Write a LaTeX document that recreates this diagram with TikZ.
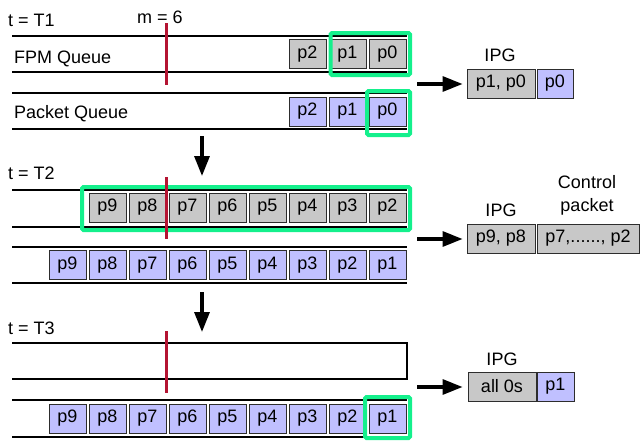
\documentclass[tikz,border=0pt]{standalone}
\usepackage{fontspec}
\setmainfont{Liberation Sans}
\usetikzlibrary{arrows.meta}
\definecolor{hlgreen}{RGB}{20,240,140}
\definecolor{pgray}{RGB}{200,200,200}
\definecolor{pblue}{RGB}{192,192,255}
\definecolor{redm}{RGB}{180,20,50}
\definecolor{bord}{RGB}{45,45,45}
\begin{document}
\begin{tikzpicture}[x=1pt,y=-1pt, font=\fontsize{18}{21}\selectfont,
 qline/.style={line width=1.7pt},
 pkt/.style={draw=bord, line width=0.9pt, minimum width=37pt, minimum height=29pt, inner sep=0pt},
 gpkt/.style={pkt, fill=pgray},
 bpkt/.style={pkt, fill=pblue},
 hl/.style={draw=hlgreen, line width=4pt, rounded corners=1.5pt},
 mline/.style={draw=redm, line width=3pt},
 arr/.style={line width=3.2pt, -{Triangle[length=20pt,width=15pt]}},
 lbl/.style={inner sep=0pt, anchor=base west},
 clbl/.style={inner sep=0pt, anchor=base}]
\useasboundingbox (0,0) rectangle (641,442);

% queue lines
\draw[qline] (12,36) -- (407,36) (12,72) -- (407,72);
\draw[qline] (12,93) -- (407,93) (12,129) -- (407,129);
\draw[qline] (12,190) -- (407,190) (12,227) -- (407,227);
\draw[qline] (12,247) -- (407,247) (12,283) -- (407,283);
\draw[qline] (12,343) -- (407,343) -- (407,379) -- (12,379);
\draw[qline] (12,400) -- (407,400) (12,437) -- (407,437);

% packets T1
\foreach \i in {0,1,2} {
  \node[gpkt] (fa\i) at ({387.5-40*\i},54) {p\i};
  \node[bpkt] (pa\i) at ({387.5-40*\i},111.5) {p\i};
}
% packets T2
\foreach \i in {2,...,9}
  \node[gpkt] (fb\i) at ({387.5-40*(\i-2)},207.5) {p\i};
\foreach \i in {1,...,9}
  \node[bpkt] (pb\i) at ({387.5-40*(\i-1)},265) {p\i};
% packets T3
\foreach \i in {1,...,9}
  \node[bpkt] (pc\i) at ({387.5-40*(\i-1)},418.5) {p\i};

% highlights
\draw[hl] (330.5,33) rectangle (410,75);
\draw[hl] (367,91) rectangle (410,135);
\draw[hl] (82,187) rectangle (410,230);
\draw[hl] (365,397) rectangle (410,438);

% m markers
\draw[mline] (166,23) -- (166,85);
\draw[mline] (166,177) -- (166,239);
\draw[mline] (166,331) -- (166,393);

% IPG boxes
\node[gpkt, minimum width=68pt] (ia1) at (501,83.5) {p1, p0};
\node[bpkt, minimum width=36pt] (ia2) at (555,83.5) {p0};
\node[gpkt, minimum width=68pt] (ib1) at (501,238.5) {p9, p8};
\node[gpkt, minimum width=102pt] (ib2) at (588,238.5) {p7,......, p2};
\node[gpkt, minimum width=68pt] (ic1) at (502,386.5) {all 0s};
\node[bpkt, minimum width=37pt] (ic2) at (555.5,386.5) {p1};

% arrows
\coordinate (d1s) at (202,136);
\coordinate (d1e) at (202,176);
\coordinate (d2s) at (202,292);
\coordinate (d2e) at (202,332);
\draw[arr] (d1s) -- (d1e);
\draw[arr] (d2s) -- (d2e);
\coordinate (h1) at (417,84);
\coordinate (h2) at (417,239);
\coordinate (h3) at (417,387);
\draw[arr, shorten >=4pt] (h1) -- (h1 -| ia1.west);
\draw[arr, shorten >=4pt] (h2) -- (h2 -| ib1.west);
\draw[arr, shorten >=5pt] (h3) -- (h3 -| ic1.west);

% labels
\node[lbl] (t1) at (8,26) {t = T1};
\node[lbl] (m) at (137,23) {m = 6};
\node[lbl] (fq) at (14,63) {FPM Queue};
\node[lbl] (pq) at (14,118) {Packet Queue};
\node[lbl] (t2) at (8,179) {t = T2};
\node[lbl] (t3) at (8,334) {t = T3};
\node[clbl] (ipg1) at (500,61.5) {IPG};
\node[clbl] (ipg2) at (501,216.5) {IPG};
\node[clbl] (ctl) at (587,188) {Control};
\node[clbl] (pk) at (587,211.5) {packet};
\node[clbl] (ipg3) at (502,365) {IPG};
\end{tikzpicture}
\end{document}
